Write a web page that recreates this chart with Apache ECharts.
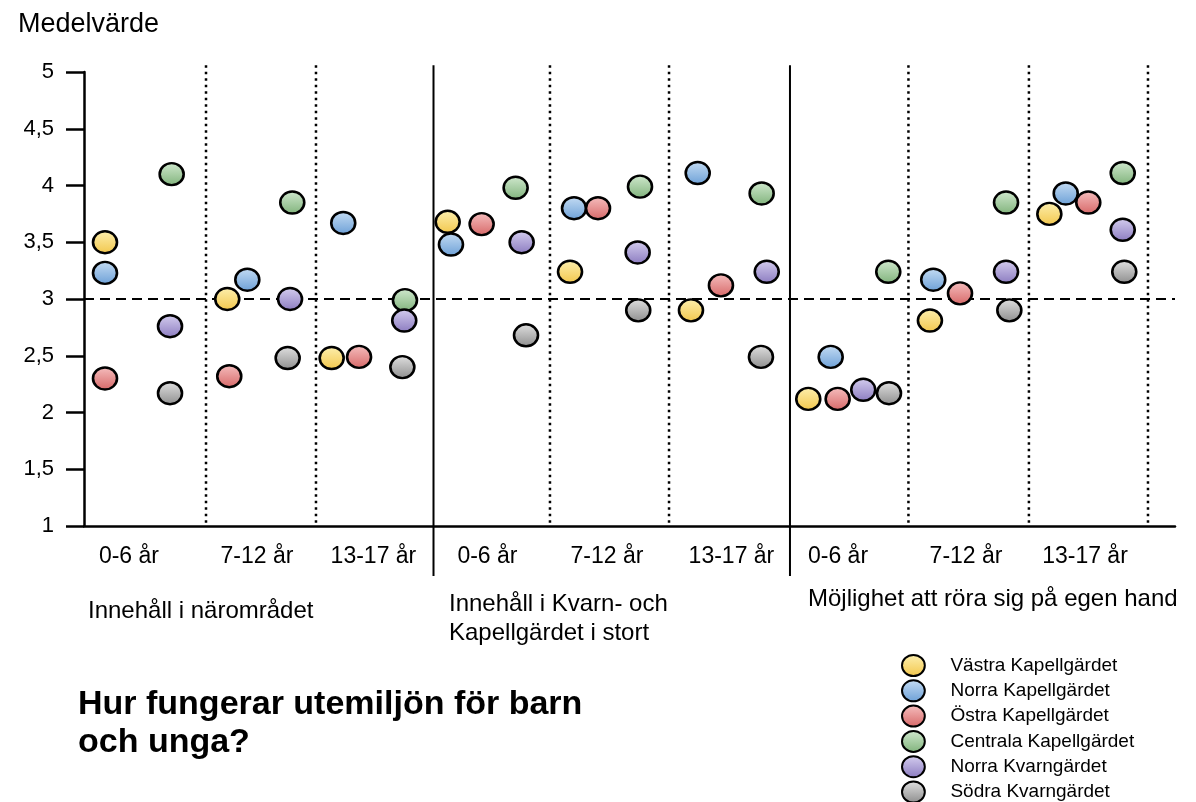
<!DOCTYPE html>
<html><head><meta charset="utf-8">
<script src="https://cdn.jsdelivr.net/npm/echarts@6/dist/echarts.min.js"></script>
<style>html,body{margin:0;padding:0;background:#fff}#c{width:1196px;height:802px}</style>
</head><body><div id="c"></div>
<script>
// ---- data ----
const seriesNames = ['Västra Kapellgärdet','Norra Kapellgärdet','Östra Kapellgärdet','Centrala Kapellgärdet','Norra Kvarngärdet','Södra Kvarngärdet'];
const ageLabels = ['0-6 år','7-12 år','13-17 år','0-6 år','7-12 år','13-17 år','0-6 år','7-12 år','13-17 år'];
const ageLabelX = [0.381, 1.466, 2.453, 3.419, 4.432, 5.487, 6.39, 7.475, 8.483];
const sectionLabels = ['Innehåll i närområdet','Innehåll i Kvarn- och\nKapellgärdet i stort','Möjlighet att röra sig på egen hand'];
const yTicks = [1, 1.5, 2, 2.5, 3, 3.5, 4, 4.5, 5];
const dottedBoundaries = [1.034, 1.966, 3.949, 4.958, 6.987, 8.008, 9.017];
const solidBoundaries = [2.962, 5.983];
const referenceValue = 3;
// x position (data units) and mean value for each group, per area
const vastraX = [0.178, 1.214, 2.099, 3.082, 4.119, 5.144, 6.138, 7.169, 8.181];
const vastraY = [3.50, 3.00, 2.48, 3.68, 3.24, 2.90, 2.12, 2.81, 3.75];
const norraKapX = [0.178, 1.384, 2.197, 3.110, 4.153, 5.201, 6.328, 7.197, 8.320];
const norraKapY = [3.23, 3.17, 3.67, 3.48, 3.80, 4.11, 2.49, 3.17, 3.93];
const ostraX = [0.178, 1.231, 2.331, 3.370, 4.356, 5.398, 6.387, 7.424, 8.511];
const ostraY = [2.30, 2.32, 2.49, 3.66, 3.80, 3.12, 2.12, 3.05, 3.85];
const centralaX = [0.743, 1.765, 2.720, 3.658, 4.712, 5.743, 6.816, 7.814, 8.803];
const centralaY = [4.10, 3.85, 2.99, 3.98, 3.99, 3.93, 3.24, 3.85, 4.11];
const norraKvX = [0.729, 1.746, 2.714, 3.709, 4.692, 5.786, 6.604, 7.814, 8.803];
const norraKvY = [2.76, 3.00, 2.81, 3.50, 3.41, 3.24, 2.20, 3.24, 3.61];
const sodraX = [0.729, 1.726, 2.698, 3.746, 4.697, 5.737, 6.822, 7.842, 8.816];
const sodraY = [2.17, 2.48, 2.40, 2.68, 2.90, 2.49, 2.17, 2.90, 3.24];

const xs = [vastraX, norraKapX, ostraX, centralaX, norraKvX, sodraX];
const ys = [vastraY, norraKapY, ostraY, centralaY, norraKvY, sodraY];
const fills = [['#fdf0b0','#f2c64a'],['#c6ddf4','#6b9fd6'],['#f6c0c0','#d66666'],['#d2ead0','#7fb27a'],['#d6cff0','#8a7abf'],['#e2e2e2','#8c8c8c']];

const FONT = '"Liberation Sans", Arial, sans-serif';
const ellipse = 'path://M50,0A50,46,0,1,1,50,92A50,46,0,1,1,50,0Z';
const X_MAX = 9.246, Y_MIN = 1, Y_MAX = 5;

const series = seriesNames.map((name, i) => ({
  name, type: 'scatter', symbol: ellipse, symbolSize: [24, 22], z: 5 + i,
  itemStyle: { color: new echarts.graphic.LinearGradient(0,0,0,1,[{offset:0,color:fills[i][0]},{offset:1,color:fills[i][1]}]), borderColor:'#000', borderWidth: 2.5, opacity: 1 },
  emphasis: { disabled: true },
  data: xs[i].map((x, k) => [x, ys[i][k]])
}));

function vline(x, solid) {
  return { type: 'line', silent: true, clip: false, symbol: 'none', z: 2, legendHoverLink: false,
    lineStyle: { color: '#000', width: solid ? 2 : 2.5, type: solid ? 'solid' : [2.5, 4] },
    data: solid ? [[x, 5.06], [x, 0.56]] : [[x, 5.06], [x, Y_MIN]] };
}
dottedBoundaries.forEach(x => series.push(vline(x, false)));
solidBoundaries.forEach(x => series.push(vline(x, true)));
series.push({ type: 'line', silent: true, clip: false, symbol: 'none', z: 3,
  lineStyle: { color: '#000', width: 2, type: [10, 6] },
  data: [[0, referenceValue], [X_MAX, referenceValue]] });

const option = {
  animation: false,
  backgroundColor: '#fff',
  grid: { left: 84, top: 72, right: 21, bottom: 276, containLabel: false },
  xAxis: { type: 'value', min: 0, max: X_MAX, splitLine: { show: false },
    axisLine: { lineStyle: { color: '#000', width: 2.5 } }, axisTick: { show: false }, axisLabel: { show: false } },
  yAxis: { type: 'value', min: Y_MIN, max: Y_MAX, interval: 0.5, splitLine: { show: false },
    axisLine: { show: true, lineStyle: { color: '#000', width: 2.5 } },
    axisTick: { show: true, length: 18, inside: false, lineStyle: { color: '#000', width: 2.5 } },
    axisLabel: { margin: 30, color: '#000', fontSize: 22, fontFamily: FONT,
      formatter: v => String(yTicks.find(t => Math.abs(t - v) < 1e-9) ?? v).replace('.', ',') } },
  legend: { data: seriesNames, orient: 'vertical', left: 901, top: 654, height: 200, padding: 0,
    itemWidth: 24, itemHeight: 21, itemGap: 2.3,
    selectedMode: false, icon: ellipse,
    textStyle: { fontSize: 19, lineHeight: 21, fontFamily: FONT, color: '#000', padding: [0, 0, 0, 20] } },
  series
};

const chart = echarts.init(document.getElementById('c'));
chart.setOption(option);

const graphics = [];
const toPx = (x, y) => chart.convertToPixel({ xAxisIndex: 0, yAxisIndex: 0 }, [x, y]);
ageLabelX.forEach((x, i) => {
  const p = toPx(x, 0.727);
  graphics.push({ type: 'text', x: p[0], y: p[1], silent: true,
    style: { text: ageLabels[i], font: '23px ' + FONT, fill: '#000', align: 'center', verticalAlign: 'middle', textAlign: 'center', textVerticalAlign: 'middle' } });
});
const sectionPos = [[88, 597], [449, 590], [808, 585]];
sectionLabels.forEach((t, i) => {
  graphics.push({ type: 'text', x: sectionPos[i][0], y: sectionPos[i][1], silent: true,
    style: { text: t, font: '24px ' + FONT, fill: '#000', lineHeight: 29 } });
});
graphics.push({ type: 'text', x: 18, y: 11, silent: true, style: { text: 'Medelvärde', font: '27px ' + FONT, fill: '#000' } });
graphics.push({ type: 'text', x: 78, y: 686, silent: true, style: { text: 'Hur fungerar utemiljön för barn\noch unga?', font: 'bold 34px ' + FONT, fill: '#000', lineHeight: 38 } });
chart.setOption({ graphic: graphics });
</script>
</body></html>
